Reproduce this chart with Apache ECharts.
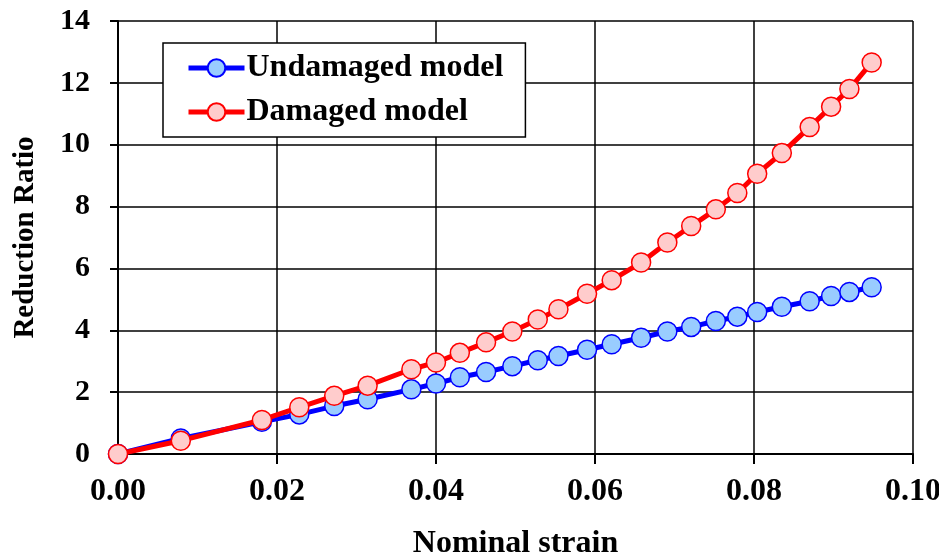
<!DOCTYPE html>
<html>
<head>
<meta charset="utf-8">
<script src="https://cdn.jsdelivr.net/npm/echarts@6/dist/echarts.min.js"></script>
<style>html,body{margin:0;padding:0;background:#fff}#c{width:939px;height:559px}</style>
</head>
<body>
<div id="c"></div>
<script>
const strain = [0, 0.0079, 0.0181, 0.0228, 0.0272, 0.0314, 0.0369, 0.0400, 0.0430, 0.0463, 0.0496, 0.0528, 0.0554, 0.0590, 0.0621, 0.0658, 0.0691, 0.0721, 0.0752, 0.0779, 0.0804, 0.0835, 0.0870, 0.0897, 0.0920, 0.0948];
const undamaged = [0, 0.50, 1.04, 1.28, 1.55, 1.77, 2.09, 2.28, 2.48, 2.65, 2.84, 3.03, 3.17, 3.37, 3.55, 3.76, 3.96, 4.11, 4.30, 4.44, 4.59, 4.76, 4.94, 5.11, 5.24, 5.39];
const damaged = [0, 0.43, 1.10, 1.51, 1.88, 2.21, 2.74, 2.96, 3.27, 3.61, 3.96, 4.35, 4.68, 5.18, 5.62, 6.19, 6.84, 7.37, 7.91, 8.44, 9.06, 9.73, 10.57, 11.23, 11.80, 12.66];
const seriesNames = ['Undamaged model', 'Damaged model'];
const xTitle = 'Nominal strain';
const yTitle = 'Reduction Ratio';

const font = '"Liberation Serif","Times New Roman",serif';
const pairs = (ys) => strain.map((x, i) => [x, ys[i]]);

const chart = echarts.init(document.getElementById('c'));
chart.setOption({
  animation: false,
  backgroundColor: '#fff',
  grid: { left: 118, right: 26, top: 21, bottom: 105, containLabel: false, outerBoundsMode: 'none' },
  xAxis: {
    type: 'value', min: 0, max: 0.1, interval: 0.02,
    name: xTitle, nameLocation: 'middle', nameGap: 74,
    nameTextStyle: { fontFamily: font, fontWeight: 'bold', fontSize: 32, color: '#000' },
    axisLine: { show: true, lineStyle: { color: '#000', width: 2 } },
    axisTick: { show: true, length: 10, inside: false, lineStyle: { color: '#000', width: 2 } },
    axisLabel: { fontFamily: font, fontWeight: 'bold', fontSize: 32, color: '#000', margin: 22,
      formatter: v => v.toFixed(2) },
    splitLine: { show: true, lineStyle: { color: '#000', width: 1.5 } }
  },
  yAxis: {
    type: 'value', min: 0, max: 14, interval: 2,
    name: yTitle, nameLocation: 'middle', nameGap: 78, nameRotate: 90,
    nameTextStyle: { fontFamily: font, fontWeight: 'bold', fontSize: 29, color: '#000' },
    axisLine: { show: true, lineStyle: { color: '#000', width: 2 } },
    axisTick: { show: true, length: 8, inside: false, lineStyle: { color: '#000', width: 2 } },
    axisLabel: { fontFamily: font, fontWeight: 'bold', fontSize: 30, color: '#000', margin: 28 },
    splitLine: { show: true, lineStyle: { color: '#000', width: 1.5 } }
  },
  legend: {
    left: 163, top: 43, orient: 'vertical',
    backgroundColor: '#fff', borderColor: '#000', borderWidth: 1.5, borderRadius: 0,
    padding: [9, 22, 9, 23], itemGap: 12, itemWidth: 56, itemHeight: 22,
    lineStyle: { width: 5 },
    textStyle: { fontFamily: font, fontWeight: 'bold', fontSize: 32, color: '#000', padding: [0, 0, 0, -3] },
    data: seriesNames
  },
  series: [
    {
      name: seriesNames[0], type: 'line', data: pairs(undamaged),
      symbol: 'circle', symbolSize: 19,
      lineStyle: { color: '#0000ff', width: 5 },
      itemStyle: { color: '#99ccff', borderColor: '#0000ff', borderWidth: 1.5 },
      z: 2
    },
    {
      name: seriesNames[1], type: 'line', data: pairs(damaged),
      symbol: 'circle', symbolSize: 19,
      lineStyle: { color: '#ff0000', width: 5 },
      itemStyle: { color: '#ffcccc', borderColor: '#ff0000', borderWidth: 1.5 },
      z: 3
    }
  ]
});
</script>
</body>
</html>
